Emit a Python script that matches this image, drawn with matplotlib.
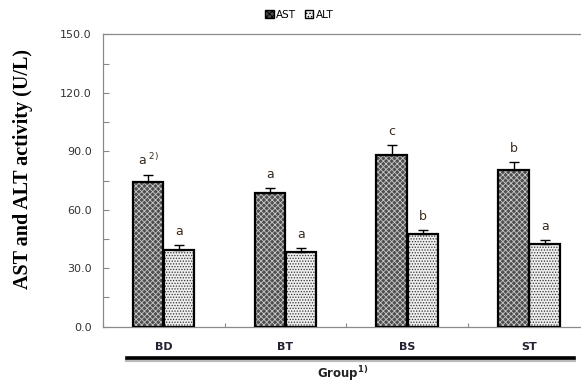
import matplotlib
matplotlib.use("Agg")
import matplotlib.pyplot as plt
import numpy as np
from matplotlib.lines import Line2D
from matplotlib.patches import Patch

groups = ["BD", "BT", "BS", "ST"]
ast = [74.3, 68.4, 88.3, 80.6]
ast_err = [3.4, 2.8, 4.7, 3.8]
alt = [39.5, 38.3, 47.6, 42.5]
alt_err = [2.6, 2.2, 1.9, 2.2]
ast_letters = ["a", "a", "c", "b"]
alt_letters = ["a", "a", "b", "a"]
yticks = [0, 30, 60, 90, 120, 150]

plt.rcParams['font.family'] = ['DejaVu Sans']
plt.rcParams['hatch.linewidth'] = 0.6
fig = plt.figure(figsize=(5.81, 3.83), dpi=100)
ax = fig.add_axes([0.1768, 0.147, 0.8387, 0.7634])

x = np.arange(len(groups))
w = 0.25
off = 0.128
ast_fc = '#4e4e4e'
alt_fc = '#eeeeee'

# hatched fills
ax.bar(x - off, ast, w, color=ast_fc, edgecolor='#c8c8c8', hatch='xxxxxx', linewidth=0, zorder=2)
ax.bar(x + off, alt, w, color=alt_fc, edgecolor='#333333', hatch='......', linewidth=0, zorder=2)
# outlines
ax.bar(x - off, ast, w, fill=False, edgecolor='black', linewidth=1.6, zorder=3)
ax.bar(x + off, alt, w, fill=False, edgecolor='black', linewidth=1.6, zorder=3)

ax.errorbar(x - off, ast, yerr=[np.zeros(4), ast_err], fmt='none', ecolor='black',
            elinewidth=1.0, capsize=3.5, capthick=1.0, zorder=4)
ax.errorbar(x + off, alt, yerr=[np.zeros(4), alt_err], fmt='none', ecolor='black',
            elinewidth=1.0, capsize=3.5, capthick=1.0, zorder=4)

txtc = '#3a2a1a'
for i in range(len(groups)):
    lab = ast_letters[i]
    if i == 0:
        lab = r"$\mathregular{a^{\ 2)}}$"
    ax.annotate(lab, (x[i] - off, ast[i] + ast_err[i]), xytext=(0, 5),
                textcoords='offset points', ha='center', va='bottom', fontsize=9, color=txtc)
    ax.annotate(alt_letters[i], (x[i] + off, alt[i] + alt_err[i]), xytext=(0, 5),
                textcoords='offset points', ha='center', va='bottom', fontsize=9, color=txtc)

ax.set_xlim(-0.5, 3.5)
ax.set_ylim(0, 150)
ax.set_yticks(yticks)
ax.set_yticklabels([f"{v:.1f}" for v in yticks], fontsize=8, color='#333333')
ax.set_yticks(np.arange(15, 150, 30), minor=True)
ax.tick_params(axis='y', which='both', direction='in', length=4, color='#888888', width=0.8, pad=8)
ax.set_xticks(np.arange(-0.5, 3.6, 1.0))
ax.set_xticklabels([])
ax.tick_params(axis='x', direction='in', length=3, color='#888888', width=0.8)

for g, xi in zip(groups, x):
    ax.text(xi, -0.07, g, transform=ax.get_xaxis_transform(), ha='center', va='center',
            fontsize=8, fontweight='bold', color='#222233')

for s in ['top', 'left', 'bottom']:
    ax.spines[s].set_color('#8a8a8a')
    ax.spines[s].set_linewidth(0.9)
ax.spines['right'].set_visible(False)

# thick line with shadow under categories
ax.add_line(Line2D([0.05, 0.967], [-0.115, -0.115], transform=ax.transAxes, color='#bbbbbb',
                   linewidth=3, clip_on=False, zorder=1))
ax.add_line(Line2D([0.05, 0.967], [-0.107, -0.107], transform=ax.transAxes, color='black',
                   linewidth=2.6, clip_on=False, zorder=2))
ax.text(0.493, -0.16, r"Group$\mathregular{^{1)}}$", transform=ax.transAxes, ha='center', va='center',
        fontsize=8.5, fontweight='bold', color='#222222')

ax.set_ylabel("AST and ALT activity (U/L)", family=['Liberation Serif', 'DejaVu Serif'],
              fontsize=14.5, fontweight='bold')
ax.yaxis.set_label_coords(-0.143, 0.54)

handles = [Patch(facecolor=ast_fc, edgecolor='black', hatch='xxxxxx'),
           Patch(facecolor=alt_fc, edgecolor='black', hatch='.....')]
fig.legend(handles, ["AST", "ALT"], loc='center', bbox_to_anchor=(0.515, 0.962), ncol=2,
           frameon=False, handlelength=0.8, handleheight=0.9, handletextpad=0.2,
           columnspacing=0.9, prop={'size': 7.5})

fig.savefig("out.png", dpi=100)
